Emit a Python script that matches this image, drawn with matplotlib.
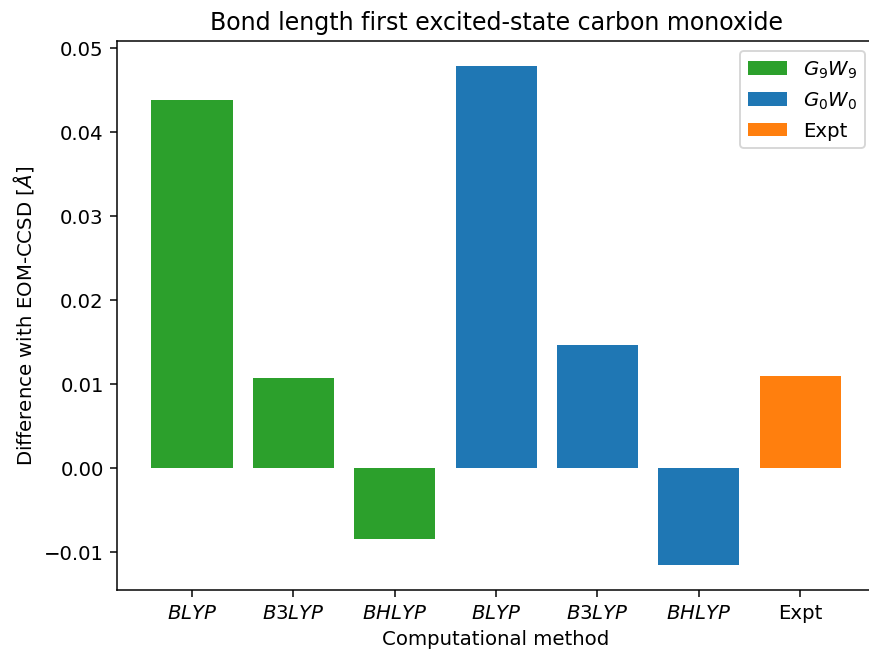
import numpy as np
import matplotlib.pyplot as plt

# bond length differences w.r.t. EOM-CCSD (Angstrom)
methods = ['$BLYP$', '$B3LYP$', '$BHLYP$']
g9w9 = [0.0438, 0.0107, -0.0084]
g0w0 = [0.0478, 0.0147, -0.0115]
expt = [0.0110]

labels = methods + methods + ['Expt']

plt.rcParams['font.size'] = 10.5

fig = plt.figure(figsize=(6.4, 4.79), dpi=135.8)
ax = fig.add_axes([117 / 869, 1 - 590 / 650, (875 - 117) / 869, (590 - 41.6) / 650])

x = np.arange(len(labels))
ax.bar(x[0:3], g9w9, color='tab:green', label='$G_9W_9$')
ax.bar(x[3:6], g0w0, color='tab:blue', label='$G_0W_0$')
ax.bar(x[6:], expt, color='tab:orange', label='Expt')

ax.set_xticks(x)
ax.set_xticklabels(labels)
ax.set_xlabel('Computational method')
ax.set_ylabel(r'Difference with EOM-CCSD [$\AA$]')
ax.set_title('Bond length first excited-state carbon monoxide')
ax.legend()
ax.spines['right'].set_visible(False)

fig.savefig('out.png', dpi=135.8)
